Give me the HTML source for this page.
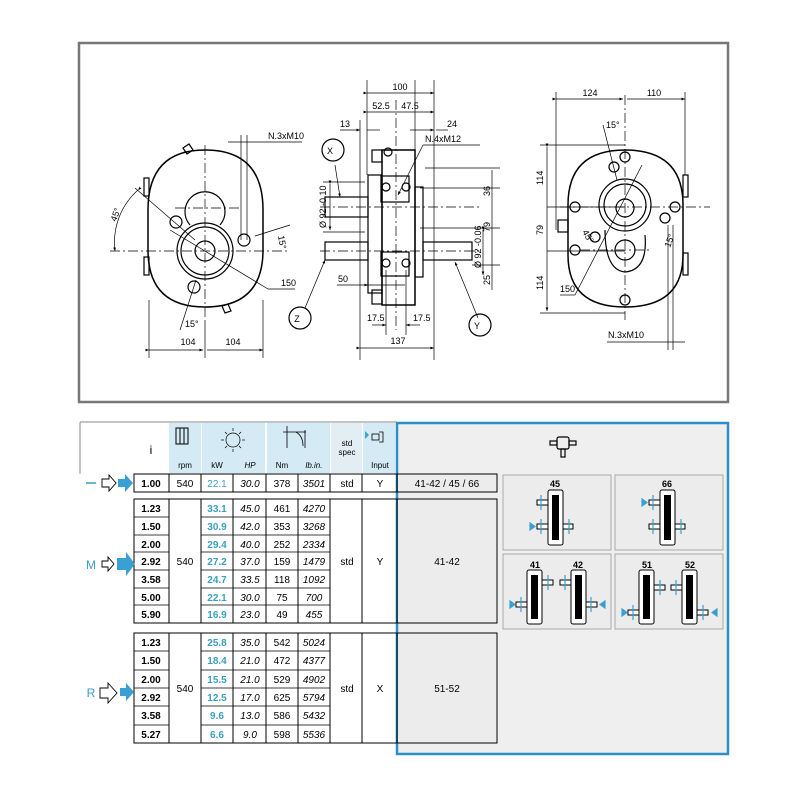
<!DOCTYPE html>
<html><head><meta charset="utf-8"><style>
html,body{margin:0;padding:0;background:#fff;}
svg{display:block;font-family:"Liberation Sans",sans-serif;}
</style></head><body>
<svg width="800" height="800" viewBox="0 0 800 800" xmlns="http://www.w3.org/2000/svg">
<defs>
<marker id="ar" markerWidth="6" markerHeight="6" refX="5" refY="3" orient="auto"><path d="M0,1 L5,3 L0,5 z" fill="#000"/></marker>
</defs>
<!-- drawing frame -->
<rect x="79" y="43" width="649" height="359" fill="#fff" stroke="#777" stroke-width="2.5"/>
<g stroke="#000" fill="none" stroke-width="1.2">
<!-- LEFT VIEW -->
<path d="M148,210 Q148,150 205,150 Q263,150 263,210 L263,250 Q263,307 205,307 Q148,307 148,250 Z" stroke-width="1.5"/>
<rect x="144" y="178" width="5" height="18"/><rect x="144" y="257" width="5" height="18"/>
<circle cx="205" cy="251" r="28"/><circle cx="205" cy="251" r="24"/><circle cx="205" cy="251" r="10"/>
<path d="M190,225 A20,20 0 1 1 220,225"/>
<circle cx="176" cy="222" r="6"/><circle cx="244" cy="240" r="6"/><circle cx="194" cy="287" r="6"/>
<path d="M183,148 l6,-4 l4,6 l-6,4z M222,306 l6,-2 l3,7 l-6,2z"/>
<g stroke-width="0.7" stroke-dasharray="10,3,2,3"><line x1="205" y1="145" x2="205" y2="320"/><line x1="110" y1="251" x2="290" y2="251"/><line x1="175" y1="208" x2="240" y2="208"/></g>
<g stroke-width="0.7">
<line x1="149" y1="300" x2="149" y2="358"/><line x1="263" y1="300" x2="263" y2="358"/><line x1="205" y1="320" x2="205" y2="358"/>
<line x1="149" y1="350" x2="203" y2="350" marker-end="url(#ar)" marker-start="url(#ar)"/>
<line x1="207" y1="350" x2="263" y2="350" marker-end="url(#ar)"/>
<line x1="241" y1="135" x2="241" y2="240"/><line x1="247" y1="135" x2="247" y2="240"/>
<line x1="228" y1="142" x2="302" y2="142"/>
<line x1="135" y1="188" x2="195" y2="240"/>
<path d="M138,190 A70,70 0 0 0 115,251" marker-start="url(#ar)" marker-end="url(#ar)"/>
<line x1="170" y1="230" x2="268" y2="289"/><line x1="268" y1="289" x2="295" y2="289"/>
<line x1="180" y1="330" x2="196" y2="280"/>
<line x1="255" y1="236" x2="290" y2="225"/>
</g>
<!-- MIDDLE VIEW -->
<rect x="368" y="175" width="14" height="118"/>
<rect x="382" y="150" width="33" height="155" stroke-width="1.5"/>
<rect x="372" y="150" width="10" height="12"/><rect x="372" y="290" width="10" height="14"/>
<rect x="415" y="187" width="8" height="90"/>
<circle cx="388" cy="152" r="4"/>
<rect x="325" y="197" width="43" height="20"/>
<rect x="325" y="242" width="43" height="18"/>
<rect x="423" y="242" width="49" height="18"/>
<rect x="381" y="176" width="28" height="26"/><rect x="381" y="252" width="28" height="24"/>
<circle cx="386" cy="187" r="4"/><circle cx="406" cy="187" r="4"/><circle cx="386" cy="263" r="4"/><circle cx="406" cy="263" r="4"/>
<g stroke-width="0.7" stroke-dasharray="10,3,2,3"><line x1="320" y1="207" x2="480" y2="207"/><line x1="320" y1="251" x2="480" y2="251"/><line x1="396" y1="100" x2="396" y2="330"/></g>
<g stroke-width="0.7">
<line x1="367" y1="80" x2="367" y2="175"/><line x1="415" y1="80" x2="415" y2="150"/><line x1="434" y1="80" x2="434" y2="360"/>
<line x1="360" y1="120" x2="360" y2="360"/>
<line x1="367" y1="93" x2="434" y2="93" marker-start="url(#ar)" marker-end="url(#ar)"/>
<line x1="367" y1="112" x2="434" y2="112" marker-start="url(#ar)" marker-end="url(#ar)"/>
<line x1="340" y1="130" x2="360" y2="130" marker-end="url(#ar)"/><line x1="367" y1="130" x2="380" y2="130"/>
<line x1="410" y1="130" x2="434" y2="130" marker-end="url(#ar)"/><line x1="436" y1="130" x2="448" y2="130"/>
<line x1="360" y1="348" x2="434" y2="348" marker-start="url(#ar)" marker-end="url(#ar)"/>
<line x1="386" y1="270" x2="386" y2="335"/><line x1="406" y1="270" x2="406" y2="335"/>
<line x1="372" y1="325" x2="386" y2="325" marker-end="url(#ar)"/><line x1="420" y1="325" x2="406" y2="325" marker-end="url(#ar)"/>
<line x1="337" y1="285" x2="368" y2="285" marker-end="url(#ar)"/><line x1="368" y1="285" x2="405" y2="285"/>
<line x1="323" y1="182" x2="365" y2="182"/><line x1="323" y1="232" x2="365" y2="232"/>
<line x1="330" y1="184" x2="330" y2="230" marker-start="url(#ar)" marker-end="url(#ar)"/>
<line x1="423" y1="145" x2="480" y2="145"/><line x1="423" y1="145" x2="398" y2="195" marker-end="url(#ar)"/>
<line x1="425" y1="168" x2="500" y2="168"/><line x1="420" y1="188" x2="500" y2="188"/><line x1="420" y1="228" x2="500" y2="228"/><line x1="472" y1="265" x2="500" y2="265"/>
<line x1="492" y1="170" x2="492" y2="290"/>
<line x1="483" y1="230" x2="483" y2="275" marker-start="url(#ar)" marker-end="url(#ar)"/>
<line x1="335" y1="165" x2="340" y2="197" marker-end="url(#ar)"/>
<line x1="305" y1="308" x2="325" y2="260" marker-end="url(#ar)"/>
<line x1="478" y1="318" x2="455" y2="262" marker-end="url(#ar)"/>
</g>
<circle cx="333" cy="150" r="11"/><circle cx="300" cy="318" r="11"/><circle cx="480" cy="325" r="11"/>
<!-- RIGHT VIEW -->
<path d="M568,205 Q568,150 625,150 Q683,150 683,205 L683,255 Q683,307 625,307 Q568,307 568,255 Z" stroke-width="1.5"/>
<rect x="683" y="175" width="5" height="22"/><rect x="683" y="253" width="5" height="22"/>
<circle cx="625" cy="205" r="26"/><circle cx="625" cy="205" r="21"/><circle cx="625" cy="208" r="9"/>
<circle cx="625" cy="250" r="10"/>
<path d="M605,230 Q605,270 625,272 Q648,270 645,235"/>
<circle cx="614" cy="167" r="5"/><circle cx="595" cy="237" r="5"/><circle cx="665" cy="218" r="5"/>
<circle cx="625" cy="157" r="5"/><circle cx="575" cy="207" r="5"/><circle cx="675" cy="207" r="5"/><circle cx="575" cy="250" r="5"/><circle cx="625" cy="300" r="5"/>
<rect x="558" y="220" width="10" height="12"/>
<g stroke-width="0.7" stroke-dasharray="10,3,2,3"><line x1="625" y1="95" x2="625" y2="320"/><line x1="560" y1="207" x2="710" y2="207"/><line x1="580" y1="250" x2="650" y2="250"/></g>
<g stroke-width="0.7">
<line x1="556" y1="92" x2="556" y2="230"/><line x1="685" y1="92" x2="685" y2="175"/>
<line x1="556" y1="99" x2="623" y2="99" marker-start="url(#ar)" marker-end="url(#ar)"/>
<line x1="627" y1="99" x2="685" y2="99" marker-end="url(#ar)"/>
<line x1="540" y1="145" x2="625" y2="145"/><line x1="540" y1="313" x2="625" y2="313"/>
<line x1="547" y1="147" x2="547" y2="311" marker-start="url(#ar)" marker-end="url(#ar)"/>
<line x1="547" y1="207" x2="625" y2="207"/><line x1="547" y1="251" x2="625" y2="251"/>
<line x1="560" y1="295" x2="575" y2="295"/><line x1="575" y1="295" x2="642" y2="165"/>
<line x1="603" y1="125" x2="617" y2="180"/>
<line x1="668" y1="225" x2="668" y2="350"/><line x1="673" y1="225" x2="673" y2="350"/><line x1="607" y1="342" x2="685" y2="342"/>
</g>
<circle cx="625" cy="325" r="0" />
</g>
<g font-size="9" fill="#000">
<text x="188" y="345" text-anchor="middle">104</text><text x="233" y="345" text-anchor="middle">104</text>
<text x="268" y="139">N.3xM10</text><text x="281" y="286">150</text>
<text x="116" y="222" transform="rotate(-70 116 222)">45°</text>
<text x="185" y="327">15°</text><text x="278" y="236" transform="rotate(80 278 236)">15°</text>
<text x="400" y="90" text-anchor="middle">100</text><text x="381" y="109" text-anchor="middle">52.5</text><text x="410" y="109" text-anchor="middle">47.5</text>
<text x="340" y="127">13</text><text x="447" y="127">24</text><text x="425" y="142">N.4xM12</text>
<text x="338" y="282">50</text><text x="367" y="321">17.5</text><text x="413" y="321">17.5</text><text x="398" y="344" text-anchor="middle">137</text>
<text x="330" y="154" text-anchor="middle">X</text><text x="297" y="322" text-anchor="middle">Z</text><text x="477" y="329" text-anchor="middle">Y</text>
<text x="490" y="196" transform="rotate(-90 490 196)">36</text><text x="490" y="232" transform="rotate(-90 490 232)">79</text><text x="490" y="285" transform="rotate(-90 490 285)">25</text>
<text x="326" y="228" transform="rotate(-90 326 228)">Ø 92 -0.10</text><text x="481" y="268" transform="rotate(-90 481 268)">Ø 92 -0.06</text>
<text x="590" y="96" text-anchor="middle">124</text><text x="654" y="96" text-anchor="middle">110</text>
<text x="543" y="185" transform="rotate(-90 543 185)">114</text><text x="543" y="235" transform="rotate(-90 543 235)">79</text><text x="543" y="290" transform="rotate(-90 543 290)">114</text>
<text x="560" y="292">150</text><text x="608" y="338">N.3xM10</text><text x="606" y="128">15°</text>
<text x="582" y="232" transform="rotate(60 582 232)">45°</text><text x="670" y="248" transform="rotate(-70 670 248)">15°</text>
</g>

<!-- TABLE -->
<rect x="397" y="423" width="331" height="331" fill="#efefef" stroke="#2d8fc6" stroke-width="2.5"/>
<line x1="80" y1="422" x2="397" y2="422" stroke="#888"/>
<line x1="80" y1="422" x2="80" y2="474" stroke="#888"/>
<g fill="#d4eaf5"><rect x="169" y="423" width="32" height="50"/><rect x="202" y="423" width="63" height="50"/><rect x="267" y="423" width="63" height="50"/><rect x="331" y="423" width="31" height="50" fill="#e3eef4"/><rect x="363" y="423" width="32" height="50"/></g>
<g stroke="#000" fill="none" stroke-width="1">
<rect x="176" y="428" width="12" height="16"/><line x1="180" y1="428" x2="180" y2="444"/><line x1="184" y1="428" x2="184" y2="444"/>
<circle cx="233" cy="440" r="7" stroke-width="0.7"/>
<g stroke-width="0.7"><line x1="233" y1="428" x2="233" y2="431"/><line x1="233" y1="449" x2="233" y2="452"/><line x1="221" y1="440" x2="224" y2="440"/><line x1="242" y1="440" x2="245" y2="440"/><line x1="225" y1="432" x2="227" y2="434"/><line x1="239" y1="446" x2="241" y2="448"/><line x1="241" y1="432" x2="239" y2="434"/><line x1="225" y1="448" x2="227" y2="446"/></g>
<g stroke-width="0.8"><line x1="287" y1="426" x2="287" y2="448"/><line x1="283" y1="432" x2="306" y2="432"/><path d="M296,432 Q303,436 303,446"/><line x1="305" y1="430" x2="305" y2="448"/></g>
<rect x="372" y="434" width="7" height="6" stroke-width="0.8"/><path d="M379,432 h4 v10 h-4" stroke-width="0.8"/>
</g>
<path d="M365,431 l4,4 l-4,4z" fill="#39a6d6"/>
<g font-size="8" fill="#000" text-anchor="middle">
<text x="151" y="454" font-size="12">i</text>
<text x="185" y="468">rpm</text><text x="217" y="468">kW</text><text x="250" y="468" font-style="italic">HP</text>
<text x="282" y="468">Nm</text><text x="314" y="468" font-style="italic">lb.in.</text>
<text x="347" y="446">std</text><text x="347" y="455">spec</text><text x="380" y="468">Input</text>
</g>
<!-- row 1.00 -->
<g stroke="#000" fill="none" stroke-width="1">
<rect x="134" y="474" width="363" height="18"/>
<line x1="169" y1="474" x2="169" y2="492"/><line x1="201" y1="474" x2="201" y2="492"/><line x1="233" y1="474" x2="233" y2="492"/><line x1="266" y1="474" x2="266" y2="492"/><line x1="298" y1="474" x2="298" y2="492"/><line x1="330" y1="474" x2="330" y2="492"/><line x1="362" y1="474" x2="362" y2="492"/><line x1="397" y1="474" x2="397" y2="492"/>
</g>
<rect x="398" y="475" width="98" height="16" fill="#ececec"/>
<g font-size="10" text-anchor="middle" fill="#000">
<text x="151" y="487" font-weight="bold">1.00</text><text x="185" y="487">540</text><text x="217" y="487" fill="#3b9ec2">22.1</text><text x="250" y="487" font-style="italic">30.0</text><text x="282" y="487">378</text><text x="314" y="487" font-style="italic">3501</text><text x="347" y="487">std</text><text x="380" y="487">Y</text><text x="447" y="487">41-42 / 45 / 66</text>
</g>
<!-- M group -->
<g stroke="#000" fill="none" stroke-width="1">
<rect x="134" y="499" width="363" height="124"/>
<line x1="169" y1="499" x2="169" y2="623"/><line x1="201" y1="499" x2="201" y2="623"/><line x1="233" y1="499" x2="233" y2="623"/><line x1="266" y1="499" x2="266" y2="623"/><line x1="298" y1="499" x2="298" y2="623"/><line x1="330" y1="499" x2="330" y2="623"/><line x1="362" y1="499" x2="362" y2="623"/><line x1="397" y1="499" x2="397" y2="623"/>
<path d="M134,517 h35 M201,517 h129 M134,535 h35 M201,535 h129 M134,552 h35 M201,552 h129 M134,570 h35 M201,570 h129 M134,588 h35 M201,588 h129 M134,605 h35 M201,605 h129" stroke-width="0.8"/>
</g>
<rect x="398" y="500" width="98" height="122" fill="#ececec"/>
<g font-size="10" text-anchor="middle" fill="#000">
<g font-weight="bold"><text x="151" y="512">1.23</text><text x="151" y="530">1.50</text><text x="151" y="548">2.00</text><text x="151" y="565">2.92</text><text x="151" y="583">3.58</text><text x="151" y="601">5.00</text><text x="151" y="618">5.90</text></g>
<g fill="#3b9ec2" font-weight="bold"><text x="217" y="512">33.1</text><text x="217" y="530">30.9</text><text x="217" y="548">29.4</text><text x="217" y="565">27.2</text><text x="217" y="583">24.7</text><text x="217" y="601">22.1</text><text x="217" y="618">16.9</text></g>
<g font-style="italic"><text x="250" y="512">45.0</text><text x="250" y="530">42.0</text><text x="250" y="548">40.0</text><text x="250" y="565">37.0</text><text x="250" y="583">33.5</text><text x="250" y="601">30.0</text><text x="250" y="618">23.0</text></g>
<text x="282" y="512">461</text><text x="282" y="530">353</text><text x="282" y="548">252</text><text x="282" y="565">159</text><text x="282" y="583">118</text><text x="282" y="601">75</text><text x="282" y="618">49</text>
<g font-style="italic"><text x="314" y="512">4270</text><text x="314" y="530">3268</text><text x="314" y="548">2334</text><text x="314" y="565">1479</text><text x="314" y="583">1092</text><text x="314" y="601">700</text><text x="314" y="618">455</text></g>
<text x="185" y="565">540</text><text x="347" y="565">std</text><text x="380" y="565">Y</text><text x="447" y="565">41-42</text>
</g>
<!-- R group -->
<g stroke="#000" fill="none" stroke-width="1">
<rect x="134" y="633" width="363" height="110"/>
<line x1="169" y1="633" x2="169" y2="743"/><line x1="201" y1="633" x2="201" y2="743"/><line x1="233" y1="633" x2="233" y2="743"/><line x1="266" y1="633" x2="266" y2="743"/><line x1="298" y1="633" x2="298" y2="743"/><line x1="330" y1="633" x2="330" y2="743"/><line x1="362" y1="633" x2="362" y2="743"/><line x1="397" y1="633" x2="397" y2="743"/>
<path d="M134,651 h35 M201,651 h129 M134,670 h35 M201,670 h129 M134,688 h35 M201,688 h129 M134,706 h35 M201,706 h129 M134,725 h35 M201,725 h129" stroke-width="0.8"/>
</g>
<rect x="398" y="634" width="98" height="108" fill="#ececec"/>
<g font-size="10" text-anchor="middle" fill="#000">
<g font-weight="bold"><text x="151" y="646">1.23</text><text x="151" y="664">1.50</text><text x="151" y="683">2.00</text><text x="151" y="701">2.92</text><text x="151" y="719">3.58</text><text x="151" y="738">5.27</text></g>
<g fill="#3b9ec2" font-weight="bold"><text x="217" y="646">25.8</text><text x="217" y="664">18.4</text><text x="217" y="683">15.5</text><text x="217" y="701">12.5</text><text x="217" y="719">9.6</text><text x="217" y="738">6.6</text></g>
<g font-style="italic"><text x="250" y="646">35.0</text><text x="250" y="664">21.0</text><text x="250" y="683">21.0</text><text x="250" y="701">17.0</text><text x="250" y="719">13.0</text><text x="250" y="738">9.0</text></g>
<text x="282" y="646">542</text><text x="282" y="664">472</text><text x="282" y="683">529</text><text x="282" y="701">625</text><text x="282" y="719">586</text><text x="282" y="738">598</text>
<g font-style="italic"><text x="314" y="646">5024</text><text x="314" y="664">4377</text><text x="314" y="683">4902</text><text x="314" y="701">5794</text><text x="314" y="719">5432</text><text x="314" y="738">5536</text></g>
<text x="185" y="692">540</text><text x="347" y="692">std</text><text x="380" y="692">X</text><text x="447" y="692">51-52</text>
</g>
<!-- left arrows -->
<line x1="86" y1="483" x2="96" y2="483" stroke="#3b9ec2" stroke-width="1.5"/>
<text x="91" y="569" font-size="12" fill="#3b9ec2" text-anchor="middle">M</text>
<text x="91" y="697" font-size="12" fill="#3b9ec2" text-anchor="middle">R</text>
<g stroke="#000" stroke-width="0.9" fill="#fff">
<path d="M102,479 h7 v-4 l7,8 l-7,8 v-4 h-7z"/><path d="M102,561 h6 v-4 l6,7 l-6,7 v-4 h-6z"/><path d="M100,688 h8 v-5 l9,10 l-9,10 v-5 h-8z"/>
</g>
<g fill="#3a9fd2"><path d="M118,479 h7 v-5 l8,9 l-8,9 v-5 h-7z"/><path d="M117,558 h9 v-6 l9,12 l-9,12 v-6 h-9z"/><path d="M120,688 h6 v-5 l8,9 l-8,9 v-5 h-6z"/></g>
<!-- right panel -->
<g stroke="#000" fill="none" stroke-width="1.2">
<rect x="557" y="437" width="12" height="12" rx="2"/><rect x="550" y="441" width="7" height="4"/><rect x="569" y="441" width="7" height="4"/><rect x="561" y="449" width="4" height="8"/>
</g>
<g fill="#ececec" stroke="#aaa" stroke-width="1">
<rect x="503" y="475" width="108" height="75"/><rect x="615" y="475" width="108" height="75"/>
<rect x="503" y="554" width="108" height="75"/><rect x="615" y="554" width="108" height="75"/>
</g>
<g font-size="9" font-weight="bold" text-anchor="middle" fill="#000">
<text x="555" y="487">45</text><text x="667" y="487">66</text><text x="535" y="568">41</text><text x="578" y="568">42</text><text x="647" y="568">51</text><text x="690" y="568">52</text>
</g>
<g stroke="#000" stroke-width="1" fill="#fff">
<!-- 45 -->
<rect x="537" y="500" width="11" height="5"/><rect x="537" y="524" width="11" height="5"/><rect x="563" y="524" width="10" height="5"/>
<rect x="548" y="490" width="15" height="55" rx="2"/>
<!-- 66 -->
<rect x="649" y="500" width="11" height="5"/><rect x="649" y="524" width="11" height="5"/><rect x="675" y="524" width="10" height="5"/>
<rect x="660" y="490" width="15" height="55" rx="2"/>
<!-- 41 42 -->
<rect x="542" y="580" width="11" height="5"/><rect x="516" y="602" width="11" height="5"/>
<rect x="527" y="570" width="15" height="54" rx="2"/>
<rect x="560" y="580" width="11" height="5"/><rect x="586" y="602" width="11" height="5"/>
<rect x="571" y="570" width="15" height="54" rx="2"/>
<!-- 51 52 -->
<rect x="654" y="585" width="11" height="5"/><rect x="628" y="610" width="11" height="5"/>
<rect x="639" y="570" width="15" height="54" rx="2"/>
<rect x="671" y="585" width="11" height="5"/><rect x="697" y="610" width="11" height="5"/>
<rect x="682" y="570" width="15" height="54" rx="2"/>
</g>
<g fill="#000">
<rect x="552" y="495" width="7" height="45"/><rect x="664" y="495" width="7" height="45"/>
<rect x="531" y="575" width="7" height="44"/><rect x="575" y="575" width="7" height="44"/>
<rect x="643" y="575" width="7" height="44"/><rect x="686" y="575" width="7" height="44"/>
</g>
<g stroke="#3a9fd2" stroke-width="1.2" fill="#3a9fd2">
<line x1="541" y1="495" x2="541" y2="510"/><line x1="541" y1="519" x2="541" y2="534"/><line x1="569" y1="519" x2="569" y2="534"/>
<path d="M530,523 l5,3.5 l-5,3.5z"/>
<line x1="653" y1="495" x2="653" y2="510"/><line x1="653" y1="519" x2="653" y2="534"/><line x1="681" y1="519" x2="681" y2="534"/>
<path d="M642,499 l5,3.5 l-5,3.5z"/>
<line x1="548" y1="575" x2="548" y2="590"/><line x1="521" y1="597" x2="521" y2="612"/><path d="M510,601 l5,3.5 l-5,3.5z"/>
<line x1="565" y1="575" x2="565" y2="590"/><line x1="591" y1="597" x2="591" y2="612"/><path d="M605,601 l-5,3.5 l5,3.5z"/>
<line x1="660" y1="580" x2="660" y2="595"/><line x1="633" y1="605" x2="633" y2="620"/><path d="M622,609 l5,3.5 l-5,3.5z"/>
<line x1="676" y1="580" x2="676" y2="595"/><line x1="703" y1="605" x2="703" y2="620"/><path d="M717,609 l-5,3.5 l5,3.5z"/>
</g>
</svg>
</body></html>
